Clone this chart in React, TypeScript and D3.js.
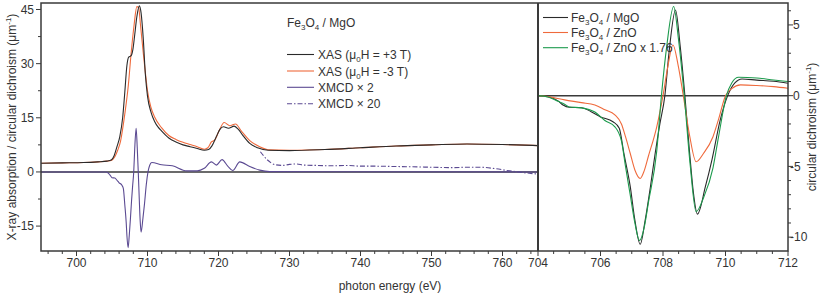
import React from 'react';
import * as d3 from 'd3';

type P = [number, number];

// Left panel: XAS and XMCD (energy eV, value µm^-1)
const xasPlus3T: P[] = [
  [695, 2.4], [698, 2.5], [701, 2.6], [703, 2.8], [704.3, 3.0], [704.9, 3.3], [705.3, 4.5], [705.7, 7],
  [706.1, 9.8], [706.5, 15], [706.8, 22], [707.1, 29.5], [707.35, 31.8], [707.7, 32.2], [707.95, 34],
  [708.2, 38], [708.5, 43], [708.85, 46], [709.1, 44], [709.4, 37], [709.7, 27], [710.0, 21], [710.5, 16.5],
  [711, 14], [711.5, 12.4], [712, 11.3], [713, 9.4], [714, 8.3], [715, 7.5], [716, 7.0], [717, 6.5],
  [718, 6.0], [718.6, 6.2], [719.1, 7.3], [719.7, 9.8], [720.2, 11.8], [720.7, 12.5], [721.4, 12.1],
  [722.2, 12.7], [722.8, 11.8], [723.4, 10.2], [724.4, 7.9], [725.5, 6.7], [727, 6.0], [730, 5.9],
  [735, 6.2], [740, 6.7], [745, 7.2], [750, 7.5], [755, 7.75], [760, 7.6], [765, 7.3],
];
const xasMinus3T: P[] = [
  [695, 2.4], [698, 2.5], [701, 2.6], [703, 2.8], [704.3, 3.0], [704.9, 3.2], [705.4, 4.2], [705.8, 6],
  [706.2, 8.5], [706.8, 16], [707.3, 24], [707.7, 33], [708.1, 40.5], [708.5, 45.8], [708.75, 45.5],
  [709.0, 41], [709.4, 33], [709.7, 27.5], [710.0, 22.5], [710.5, 17.8], [711, 15.2], [712, 12.2],
  [713, 10.1], [714, 9.0], [715, 8.2], [716, 7.6], [717, 7.0], [718, 6.3], [718.5, 6.7], [719.0, 8.3],
  [719.5, 8.9], [720.1, 11.5], [720.8, 13.7], [721.6, 12.8], [722.4, 13.3], [723.2, 11.4], [724.4, 8.7],
  [725.8, 7.0], [727.2, 6.1], [730, 6.0], [735, 6.2], [740, 6.7], [745, 7.2], [750, 7.5], [755, 7.75],
  [760, 7.6], [765, 7.3],
];
const xmcdX2: P[] = [
  [695, 0], [704, 0], [704.3, -0.1], [704.7, -0.8], [705.0, -1.6], [705.4, -1.7], [705.7, -2.3],
  [706.0, -3.0], [706.4, -3.7], [706.6, -4.6], [706.8, -9], [707.0, -14], [707.1, -17.6], [707.27, -21],
  [707.43, -17.6], [707.6, -12.8], [707.75, -8.1], [707.9, -4], [708.06, 0], [708.2, 6.4], [708.4, 12.1],
  [708.55, 7], [708.7, 0], [708.85, -8], [708.97, -13.6], [709.1, -16.7], [709.36, -12.8], [709.57, -9],
  [709.83, -3.5], [710.07, 0], [710.3, 1.8], [710.6, 2.6], [712, 2.0], [713.5, 1.7], [715.5, 0.3],
  [717, 0.3], [718, 1.0], [719.0, 2.8], [719.7, 1.9], [720.5, 3.4], [721.3, 1.6], [722.0, 0.4],
  [723.0, 2.8], [724.4, 1.5], [725.8, 0.5], [727.2, 0.1], [735, 0.05], [765, 0],
];
const xmcdX20: P[] = [
  [725.9, 5.6], [726.9, 3.3], [728, 2.0], [729, 1.8], [730, 2.1], [731, 2.2], [732, 1.9], [734, 1.8],
  [736, 1.7], [738, 1.8], [740, 1.6], [742, 1.6], [745, 1.5], [748, 1.4], [750, 1.3], [753, 1.2],
  [755, 1.3], [757, 1.3], [759, 0.9], [761, 0.3], [763, -0.2], [765, -0.6],
];

// Right panel: circular dichroism
const cdMgO: P[] = [
  [704, 0], [704.32, -0.07], [704.64, -0.37], [704.8, -0.66], [705.0, -0.82], [705.4, -0.85],
  [705.7, -1.13], [706.0, -1.5], [706.4, -1.84], [706.6, -2.3], [706.75, -4.1], [706.95, -6.4],
  [707.1, -8.8], [707.27, -10.5], [707.43, -8.8], [707.6, -6.4], [707.75, -4.07], [707.9, -2.0],
  [708.06, 0], [708.2, 3.2], [708.4, 6.06], [708.55, 3.5], [708.7, 0], [708.85, -4], [708.97, -6.8],
  [709.1, -8.37], [709.36, -6.4], [709.57, -4.5], [709.83, -1.73], [710.07, 0], [710.3, 0.9],
  [710.53, 1.18], [711, 1.1], [711.54, 1.02], [712, 0.88],
];
const cdZnO: P[] = [
  [704, 0], [704.32, -0.07], [704.85, -0.3], [705.39, -0.49], [705.82, -0.66], [706.14, -1.0],
  [706.46, -1.36], [706.67, -2.0], [706.8, -2.9], [706.95, -4.07], [707.1, -5.25], [707.27, -5.85],
  [707.4, -5.3], [707.53, -4.3], [707.8, -2.2], [708.0, 0], [708.15, 2.0], [708.32, 3.58], [708.48, 2.2],
  [708.65, 0], [708.85, -2.8], [709.06, -4.67], [709.3, -4.07], [709.6, -2.9], [709.77, -1.73],
  [710.0, 0], [710.2, 0.5], [710.48, 0.76], [711, 0.72], [711.54, 0.64], [712, 0.52],
];
const cdZnOx176: P[] = [
  [704, 0], [704.32, -0.1], [704.64, -0.4], [704.85, -0.6], [705.0, -0.8], [705.39, -0.86],
  [705.82, -1.16], [706.14, -1.76], [706.46, -2.2], [706.67, -3.2], [706.8, -5.0], [706.95, -7.0],
  [707.1, -9.0], [707.25, -10.25], [707.4, -9.3], [707.53, -7.6], [707.8, -3.9], [707.95, 0],
  [708.12, 3.5], [708.34, 6.3], [708.5, 3.9], [708.68, 0], [708.87, -4.9], [709.06, -8.2], [709.3, -7.2],
  [709.6, -5.1], [709.77, -3.0], [710.03, 0], [710.2, 0.9], [710.42, 1.3], [711, 1.25], [711.54, 1.11],
  [712, 1.0],
];

const leftXTicks = [700, 710, 720, 730, 740, 750, 760];
const leftYTicks = [-15, 0, 15, 30, 45];
const rightXTicks = [704, 706, 708, 710, 712];
const rightYTicks = [-10, -5, 0, 5];

// text parts: [text, 0 = normal, 1 = subscript]
const titleParts: [string, number][] = [['Fe', 0], ['3', 1], ['O', 0], ['4', 1], [' / MgO', 0]];
const legendLParts: [string, number][][] = [
  [['XAS (μ', 0], ['0', 1], ['H = +3 T)', 0]],
  [['XAS (μ', 0], ['0', 1], ['H = -3 T)', 0]],
  [['XMCD × 2', 0]],
  [['XMCD × 20', 0]],
];
const legendRParts: [string, number][][] = [
  [['Fe', 0], ['3', 1], ['O', 0], ['4', 1], [' / MgO', 0]],
  [['Fe', 0], ['3', 1], ['O', 0], ['4', 1], [' / ZnO', 0]],
  [['Fe', 0], ['3', 1], ['O', 0], ['4', 1], [' / ZnO x 1.76', 0]],
];

const C_BLACK = '#2a2a2a';
const C_ORANGE = '#ef6a3c';
const C_PURPLE = '#5b4a92';
const C_GREEN = '#1b9a4c';
const C_AXIS = '#3a3a3a';
const FONT = 'Liberation Sans, Arial, Helvetica, sans-serif';

function renderParts(parts: [string, number][]) {
  let level = 0;
  return parts.map((p, i) => {
    const dy = p[1] === 1 ? (level === 1 ? 0 : 3) : (level === 1 ? -3 : 0);
    level = p[1];
    return (
      <tspan key={i} dy={dy} fontSize={p[1] === 1 ? 8 : 12}>{p[0]}</tspan>
    );
  });
}

export default function App() {
  const top = 3, bottom = 251;
  const lx0 = 41, lx1 = 538, rx1 = 788;
  const xL = d3.scaleLinear().domain([695, 765]).range([lx0, lx1]);
  const yL = d3.scaleLinear().domain([-21.9, 46.8]).range([bottom, top]);
  const xR = d3.scaleLinear().domain([704, 712]).range([lx1, rx1]);
  const yR = d3.scaleLinear().domain([-10.98, 6.55]).range([bottom, top]);

  const lineL = d3.line<P>().x(d => xL(d[0])).y(d => yL(d[1])).curve(d3.curveMonotoneX);
  const lineR = d3.line<P>().x(d => xR(d[0])).y(d => yR(d[1])).curve(d3.curveMonotoneX);

  const lxMinor = d3.range(696, 765, 2);
  const lyMinor = d3.range(-15, 46, 7.5);
  const rxMinor = d3.range(704, 712.01, 0.5);
  const ryMinor = d3.range(-10, 6.5, 1);

  const legendLColors = [C_BLACK, C_ORANGE, C_PURPLE, C_PURPLE];
  const legendLDash = [undefined, undefined, undefined, '5,2,1.5,2'];
  const legendLY = [54.5, 71, 87.3, 103.7];
  const legendRColors = [C_BLACK, C_ORANGE, C_GREEN];
  const legendRY = [17.5, 32.5, 47.7];

  return (
    <svg width={822} height={305} style={{ position: 'absolute', left: 0, top: 0, background: '#fff' }}
      fontFamily={FONT} fontSize={12} fill="#333">
      <defs>
        <clipPath id="clipL"><rect x={lx0} y={top} width={lx1 - lx0} height={bottom - top} /></clipPath>
        <clipPath id="clipR"><rect x={lx1} y={top} width={rx1 - lx1} height={bottom - top} /></clipPath>
      </defs>

      {/* zero lines */}
      <line x1={lx0} x2={lx1} y1={yL(0)} y2={yL(0)} stroke={C_AXIS} strokeWidth={1.5} />
      <line x1={lx1} x2={rx1} y1={yR(0)} y2={yR(0)} stroke={C_AXIS} strokeWidth={1.5} />

      {/* left data */}
      <g clipPath="url(#clipL)" fill="none" strokeWidth={1.1}>
        <path d={lineL(xmcdX2) || ''} stroke={C_PURPLE} />
        <path d={lineL(xmcdX20) || ''} stroke={C_PURPLE} strokeDasharray="5,2,1.5,2" />
        <path d={lineL(xasMinus3T) || ''} stroke={C_ORANGE} />
        <path d={lineL(xasPlus3T) || ''} stroke={C_BLACK} />
      </g>
      {/* right data */}
      <g clipPath="url(#clipR)" fill="none" strokeWidth={1.1}>
        <path d={lineR(cdMgO) || ''} stroke={C_BLACK} />
        <path d={lineR(cdZnO) || ''} stroke={C_ORANGE} />
        <path d={lineR(cdZnOx176) || ''} stroke={C_GREEN} />
      </g>

      {/* frame */}
      <rect x={lx0} y={top} width={rx1 - lx0} height={bottom - top} fill="none" stroke={C_AXIS} strokeWidth={1.5} />
      <line x1={lx1} x2={lx1} y1={top} y2={bottom} stroke={C_AXIS} strokeWidth={2} />

      {/* left x ticks */}
      {lxMinor.map(v => {
        const major = v % 10 === 0;
        return <line key={'lx' + v} x1={xL(v)} x2={xL(v)} y1={bottom} y2={bottom + (major ? 5 : 3)} stroke={C_AXIS} strokeWidth={1} />;
      })}
      {leftXTicks.map(v => (
        <text key={'lxt' + v} x={xL(v)} y={267} textAnchor="middle">{v}</text>
      ))}
      {/* left y ticks */}
      {lyMinor.map(v => {
        const major = v % 15 === 0;
        return <line key={'ly' + v} x1={lx0} x2={lx0 - (major ? 5 : 3)} y1={yL(v)} y2={yL(v)} stroke={C_AXIS} strokeWidth={1} />;
      })}
      {leftYTicks.map(v => (
        <text key={'lyt' + v} x={34} y={yL(v)} dy="0.35em" textAnchor="end">{v}</text>
      ))}

      {/* right x ticks */}
      {rxMinor.map(v => {
        const major = Math.abs(v % 2) < 1e-6;
        return <line key={'rx' + v} x1={xR(v)} x2={xR(v)} y1={bottom} y2={bottom + (major ? 5 : 3)} stroke={C_AXIS} strokeWidth={1} />;
      })}
      {rightXTicks.map(v => (
        <text key={'rxt' + v} x={xR(v)} y={267} textAnchor="middle">{v}</text>
      ))}
      {/* right y ticks */}
      {ryMinor.map(v => {
        const major = v % 5 === 0;
        return <line key={'ry' + v} x1={rx1} x2={rx1 + (major ? 5 : 3)} y1={yR(v)} y2={yR(v)} stroke={C_AXIS} strokeWidth={1} />;
      })}
      {rightYTicks.map(v => (
        <text key={'ryt' + v} x={v < 0 ? 790 : 793} y={yR(v)} dy="0.35em" textAnchor="start">{v}</text>
      ))}

      {/* axis titles */}
      <text x={390} y={290} textAnchor="middle">photon energy (eV)</text>
      <text transform={`translate(16,127) rotate(-90)`} textAnchor="middle">
        <tspan>X-ray absorption / circular dichroism (μm</tspan><tspan fontSize={8} dy={-5}>-1</tspan><tspan dy={5}>)</tspan>
      </text>
      <text transform={`translate(816,127) rotate(-90)`} textAnchor="middle">
        <tspan>circular dichroism (μm</tspan><tspan fontSize={8} dy={-5}>-1</tspan><tspan dy={5}>)</tspan>
      </text>

      {/* left legend */}
      <text x={287} y={27}>{renderParts(titleParts)}</text>
      {legendLParts.map((parts, i) => (
        <g key={'ll' + i}>
          <line x1={287} x2={314} y1={legendLY[i]} y2={legendLY[i]} stroke={legendLColors[i]} strokeWidth={1.1} strokeDasharray={legendLDash[i]} />
          <text x={318} y={legendLY[i] + 4.5}>{renderParts(parts)}</text>
        </g>
      ))}

      {/* right legend */}
      {legendRParts.map((parts, i) => (
        <g key={'rl' + i}>
          <line x1={543} x2={568} y1={legendRY[i]} y2={legendRY[i]} stroke={legendRColors[i]} strokeWidth={1.1} />
          <text x={571} y={legendRY[i] + 4.5}>{renderParts(parts)}</text>
        </g>
      ))}
    </svg>
  );
}
